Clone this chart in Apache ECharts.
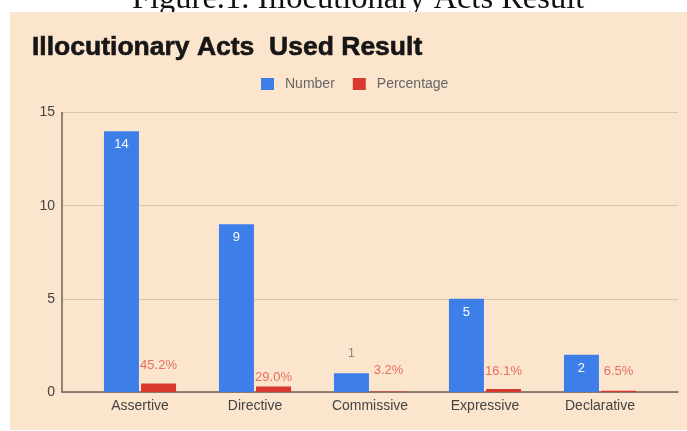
<!DOCTYPE html>
<html><head><meta charset="utf-8">
<script src="https://cdn.jsdelivr.net/npm/echarts@6/dist/echarts.min.js"></script>
<style>html,body{margin:0;padding:0;background:#fff;}#c{width:687px;height:431px;}</style>
</head><body><div id="c"></div>
<script>
const categories = ['Assertive', 'Directive', 'Commissive', 'Expressive', 'Declarative'];
const numberValues = [14, 9, 1, 5, 2];
const percentValues = [0.452, 0.290, 0.032, 0.161, 0.065];
const percentLabels = ['45.2%', '29.0%', '3.2%', '16.1%', '6.5%'];
const yTicks = [0, 5, 10, 15];

const chart = echarts.init(document.getElementById('c'), null, {renderer: 'canvas'});
const axisDark = '#6e6158';
const fontFam = 'Liberation Sans, Arial, sans-serif';
const pctDistances = [12, 3, 14, 11, 13];

chart.setOption({
  backgroundColor: '#ffffff',
  animation: false,
  graphic: [
    {type: 'rect', z: -10, shape: {x: 10, y: 12, width: 677, height: 418}, style: {fill: '#fce5cd'}},
    {type: 'text', z: -20, x: 132, y: 16, style: {text: 'Figure.1. Illocutionary Acts Result', font: '32.5px "Liberation Serif", "Times New Roman", serif', fill: '#111', textAlign: 'left', textVerticalAlign: 'bottom'}}
  ],
  title: {
    text: 'Illocutionary Acts  Used Result',
    left: 32, top: 34, padding: 0,
    textStyle: {fontFamily: fontFam, fontWeight: 'bold', fontSize: 26.5, color: '#161616',
      textBorderColor: '#161616', textBorderWidth: 0.6}
  },
  legend: {
    left: 261, top: 77, padding: 0,
    icon: 'rect', itemWidth: 13, itemHeight: 12, itemGap: 18,
    textStyle: {fontFamily: fontFam, fontSize: 14, color: '#666', padding: [0, 0, 0, 6]},
    data: ['Number', 'Percentage']
  },
  grid: [
    {left: 62, right: 9, top: 112.5, bottom: 39},
    {left: 82.5, right: 29.5, top: 112.5, bottom: 39}
  ],
  xAxis: [
    {gridIndex: 0, type: 'value', min: 0, max: 1, axisLine: {show: true, lineStyle: {color: axisDark, width: 1.5}}, axisTick: {show: false}, axisLabel: {show: false}, splitLine: {show: false}},
    {gridIndex: 1, type: 'category', data: categories, axisLine: {show: false}, axisTick: {show: false},
     axisLabel: {fontFamily: fontFam, fontSize: 14, color: '#444', margin: 7}}
  ],
  yAxis: [
    {gridIndex: 0, type: 'value', min: 0, max: 15, interval: 5,
     axisLine: {show: true, lineStyle: {color: axisDark, width: 1.5}}, axisTick: {show: false},
     axisLabel: {fontFamily: fontFam, fontSize: 14, color: '#444', margin: 7,
       formatter: v => yTicks.includes(v) ? String(v) : ''},
     splitLine: {lineStyle: {color: '#d6c5b1', width: 1}}},
    {gridIndex: 1, type: 'value', min: 0, max: 15, interval: 5, show: false, splitLine: {show: false}}
  ],
  series: [
    {name: 'Number', type: 'bar', xAxisIndex: 1, yAxisIndex: 1, barWidth: 35, barGap: '6%',
     itemStyle: {color: '#3d7ee9'},
     data: numberValues.map(v => v >= 2 ? {value: v} : {value: v, label: {position: 'top', distance: 13, color: '#888'}}),
     label: {show: true, position: 'insideTop', distance: 7, color: '#fff', fontFamily: fontFam, fontSize: 13}},
    {name: 'Percentage', type: 'bar', xAxisIndex: 1, yAxisIndex: 1, barWidth: 35,
     itemStyle: {color: '#d9382e'},
     data: percentValues.map((v, i) => ({value: v, label: {distance: pctDistances[i]}})),
     label: {show: true, position: 'top', color: '#e56f62', fontFamily: fontFam, fontSize: 13,
       formatter: p => percentLabels[p.dataIndex]}}
  ]
});
</script></body></html>
